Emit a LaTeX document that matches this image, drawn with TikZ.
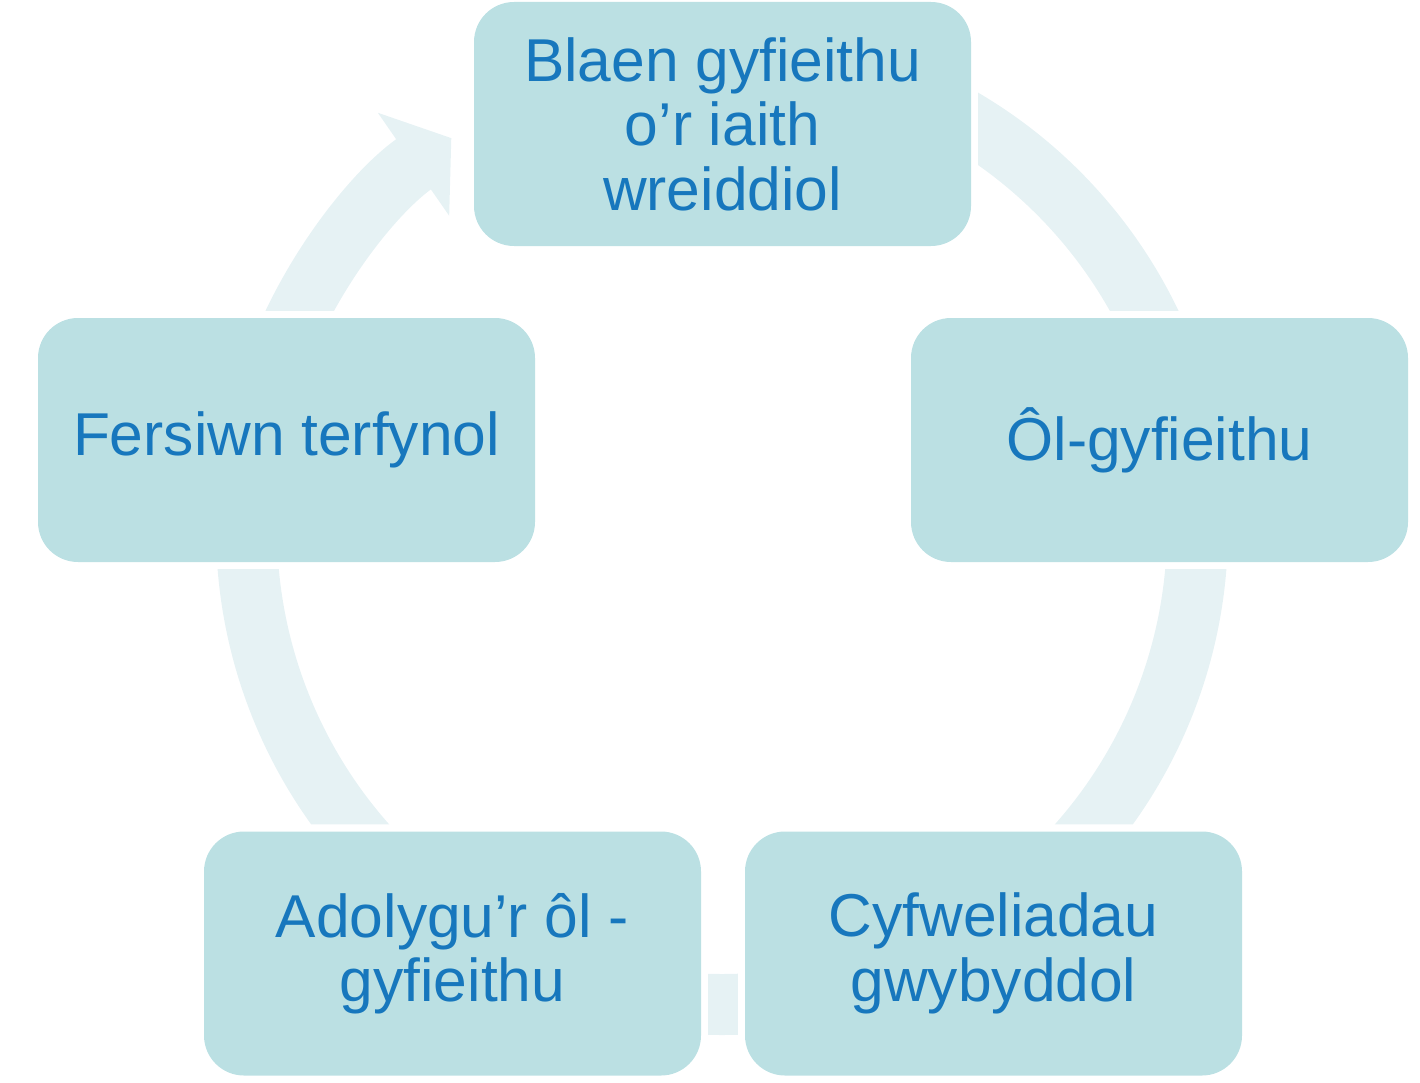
\documentclass[tikz,border=0pt]{standalone}
\usepackage{fontspec}
\setmainfont{Liberation Sans}
\usepackage{tikz}
\usetikzlibrary{arrows.meta,calc}
\definecolor{boxcolor}{RGB}{187, 224, 227}
\definecolor{ringcolor}{RGB}{230, 242, 244}
\definecolor{textcolor}{RGB}{23, 119, 189}

\begin{document}
\begin{tikzpicture}[x=1pt,y=-1pt,
  stage/.style={fill=boxcolor,rounded corners=40pt,minimum width=497pt,minimum height=244pt,inner sep=0pt,align=center,text=textcolor,font=\fontsize{60.5}{64.5}\selectfont},
  ring/.style={draw=ringcolor,line width=61pt}]
\useasboundingbox (0,0) rectangle (1420,1083);
\node[stage] (src) at (722.5,124) {Blaen gyfieithu\\o’r iaith\\wreiddiol};
\node[stage] (post) at (1159.5,440) {Ôl-gyfieithu};
\node[stage] (cog) at (993.5,953.5) {Cyfweliadau\\gwybyddol};
\node[stage] (rev) at (452.5,953.5) {Adolygu’r ôl -\\gyfieithu};
\node[stage] (final) at (286.5,440) {Fersiwn terfynol};
\coordinate (ctr) at (722,529);
\begin{scope}[even odd rule]
\clip (0,0) rectangle (1420,1083)
  ($(src.north west)+(-7,-7)$) rectangle ($(src.south east)+(7,7)$)
  ($(post.north west)+(-7,-7)$) rectangle ($(post.south east)+(7,7)$)
  ($(cog.north west)+(-7,-7)$) rectangle ($(cog.south east)+(7,7)$)
  ($(rev.north west)+(-7,-7)$) rectangle ($(rev.south east)+(7,7)$)
  ($(final.north west)+(-7,-7)$) rectangle ($(final.south east)+(7,7)$);
\draw[ring] (ctr) ++(298.7:475.5) arc[start angle=298.7,end angle=336.6,radius=475.5];
\draw[ring] (ctr) ++(0:475.5) arc[start angle=0,end angle=42.5,radius=475.5];
\draw[ring] (ctr) ++(80:475.5) arc[start angle=80,end angle=100,radius=475.5];
\draw[ring] (ctr) ++(137.5:475.5) arc[start angle=137.5,end angle=180,radius=475.5];
\draw[ring,-{Triangle[width=123pt,length=46pt]}] (ctr) ++(203.4:475.5) arc[start angle=203.4,end angle=235.3,radius=475.5];
\end{scope}
\end{tikzpicture}
\end{document}
